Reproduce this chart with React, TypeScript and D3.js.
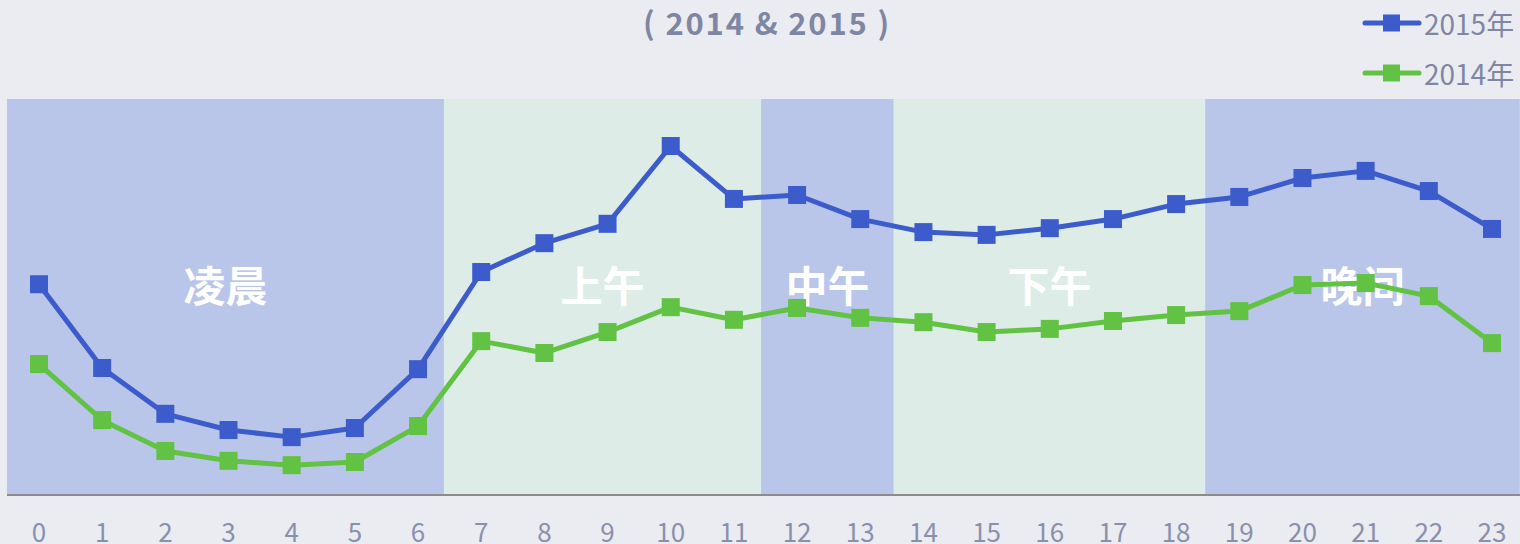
import * as d3 from "d3";

const hours = d3.range(0, 24);
const hourLabels = hours.map(String);

const y2015 = [53.1, 31.9, 20.3, 16.2, 14.4, 16.7, 31.6, 56.2, 63.5, 68.4, 88.1, 74.7, 75.7, 69.6, 66.3, 65.6, 67.3, 69.6, 73.4, 75.2, 80.0, 81.8, 76.7, 67.1];
const y2014 = [32.9, 18.7, 10.9, 8.4, 7.3, 8.1, 17.2, 38.7, 35.7, 41.0, 47.3, 44.1, 47.1, 44.6, 43.5, 41.0, 41.8, 43.8, 45.3, 46.3, 52.9, 53.4, 50.1, 38.2];

const periodNames = ["凌晨", "上午", "中午", "下午", "晚间"];
const periodStart = [-0.507, 6.41, 11.43, 13.53, 18.46];
const periodEnd = [6.41, 11.43, 13.53, 18.46, 23.44];

const seriesNames = ["2015年", "2014年"];

const width = 1520;
const height = 544;
const font = "'Noto Sans CJK SC', 'Noto Sans', sans-serif";
const textColor = "#7f86a4";
const blue = "#3d5ccb";
const green = "#62c244";
const bandBlue = "#b9c6ea";
const bandGreen = "#deece7";

function App() {
    const xScale = d3.scaleLinear().domain([0, 23]).range([39, 1492]);
    const yScale = d3.scaleLinear().domain([0, 100]).range([494, 99]);

    const line = d3.line<number>()
        .x((d, i) => xScale(i))
        .y(d => yScale(d));

    const series = [
        {name: seriesNames[0], values: y2015, color: blue},
        {name: seriesNames[1], values: y2014, color: green},
    ];

    return (
        <svg width={width} height={height}
             style={{position: "absolute", left: 0, top: 0, background: "#ebecf2", fontFamily: font}}>
            {periodNames.map((name, i) => (
                <rect key={name} x={xScale(periodStart[i])} y={yScale(100)}
                      width={xScale(periodEnd[i]) - xScale(periodStart[i])}
                      height={yScale(0) - yScale(100)}
                      fill={i % 2 === 0 ? bandBlue : bandGreen}/>
            ))}
            {periodNames.map((name, i) => (
                <text key={name} x={(xScale(periodStart[i]) + xScale(periodEnd[i])) / 2} y={283}
                      textAnchor="middle" dominantBaseline="central"
                      fontSize={42} fontWeight="bold" fill="#ffffff">{name}</text>
            ))}
            <line x1={xScale(-0.507)} x2={width} y1={yScale(0) + 1} y2={yScale(0) + 1}
                  stroke="#8c8c8c" strokeWidth={2}/>
            {hours.map((h, i) => (
                <text key={h} x={xScale(h)} y={530} textAnchor="middle" dominantBaseline="central"
                      fontSize={26} fill="#8a90ac">{hourLabels[i]}</text>
            ))}
            {series.map(s => (
                <g key={s.name}>
                    <path d={line(s.values) || ""} fill="none" stroke={s.color} strokeWidth={5}
                          strokeLinejoin="round"/>
                    {s.values.map((v, i) => (
                        <rect key={i} x={xScale(i) - 9} y={yScale(v) - 9} width={18} height={18} fill={s.color}/>
                    ))}
                </g>
            ))}
            <text x={767} y={21} textAnchor="middle" dominantBaseline="central"
                  fontSize={31} fontWeight="bold" fill={textColor} letterSpacing={1.8}>( 2014 &amp; 2015 )</text>
            {series.map((s, i) => (
                <g key={s.name} transform={`translate(0, ${23 + i * 50})`}>
                    <line x1={1365} x2={1419} y1={0} y2={0} stroke={s.color} strokeWidth={5} strokeLinecap="round"/>
                    <rect x={1383} y={-8.5} width={17} height={17} fill={s.color}/>
                    <text x={1424} y={0} dominantBaseline="central" fontSize={28} fill={textColor}>{s.name}</text>
                </g>
            ))}
        </svg>
    );
}

export default App;
